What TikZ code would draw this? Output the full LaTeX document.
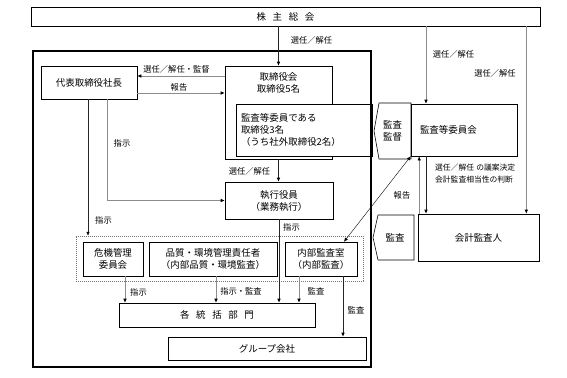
\documentclass[tikz,border=0pt]{standalone}
\usepackage{fontspec}
\setmainfont{Noto Sans CJK JP}
\usetikzlibrary{arrows.meta}
\newcommand{\jgap}{\hspace{0.7em}}

\begin{document}
\begin{tikzpicture}[x=1bp,y=-1bp,
  box/.style={draw,fill=white,line width=0.6pt,inner sep=0pt,align=center,
    font=\fontsize{9.5}{12}\selectfont},
  lbl/.style={inner sep=0pt,align=center,font=\fontsize{8.3}{11}\selectfont},
  link/.style={draw=black!45,line width=0.6pt,-{Latex[length=4bp,width=3.5bp,color=black]}},
  dlink/.style={link,draw=black!85}]
\useasboundingbox (0,0) rectangle (567,377);

\node[box,minimum width=509bp,minimum height=19bp] (sh) at (285.5,16.5) {株\jgap 主\jgap 総\jgap 会};

\node[box,minimum width=96bp,minimum height=33bp] (ceo) at (89,82.5) {代表取締役社長};
\node[box,minimum width=107bp,minimum height=93bp] (bod) at (278.5,112.5) {};
\node[box,draw=none,fill=none] (bodtxt) at (278.5,82.5) {取締役会\\取締役5名};
\node[box,minimum height=52bp,text width=126bp,inner xsep=5bp,align=left] (acm) at (304,130)
  {監査等委員である\\取締役3名\\（うち社外取締役2名）};

\draw[fill=white,line width=0.6pt] (411,103) -- (379,103) -- (374,131) -- (379,159) -- (411,159) -- cycle;
\node[box,draw=none,fill=none] (kk) at (392.5,131) {監査\\監督};
\node[box,minimum height=52bp,text width=88bp,inner xsep=9bp,align=left] (ac) at (464,130) {監査等委員会};

\draw[fill=white,line width=0.6pt] (414,215) -- (378,215) -- (373,237.5) -- (378,260) -- (414,260) -- cycle;
\node[box,draw=none,fill=none] (kk2) at (395,237.5) {監査};
\node[box,minimum width=121bp,minimum height=47bp] (aud) at (478.5,237.5) {会計監査人};

\node[box,minimum width=108bp,minimum height=37bp] (exe) at (279,200.5) {執行役員\\（業務執行）};

\node[draw=black!55,dash pattern=on 1pt off 1pt,minimum width=287bp,minimum height=45bp] (grp) at (219.5,258.5) {};
\node[box,minimum width=60bp,minimum height=34bp] (risk) at (113,259) {危機管理\\委員会};
\node[box,minimum width=128bp,minimum height=34bp] (qual) at (213,259) {品質・環境管理責任者\\（内部品質・環境監査）};
\node[box,minimum width=72bp,minimum height=34bp] (ia) at (321,259) {内部監査室\\（内部監査）};

\node[box,minimum width=196bp,minimum height=24bp] (div) at (217,315) {各\jgap 統\jgap 括\jgap 部\jgap 門};
\node[box,minimum width=198bp,minimum height=23bp] (gc) at (267,348.5) {グループ会社};

\draw[line width=1.4pt] (33,51) rectangle (371,367);

% connectors
\coordinate (selA) at ([yshift=6.5bp]ceo.east);
\coordinate (repA) at ([yshift=-10.5bp]ceo.east);
\coordinate (ceoout) at ([xshift=-1bp]ceo.south);
\coordinate (ceoexe) at ([xshift=18bp]ceo.south);
\coordinate (acin) at ([xshift=-38bp]ac.north);
\coordinate (audin) at ([xshift=-13bp]aud.north east);
\coordinate (repB) at ([xshift=1.5bp]aud.north west);
\coordinate (riskout) at ([xshift=12bp]risk.south);
\coordinate (qualout) at ([xshift=3bp]qual.south);
\coordinate (iaout) at ([xshift=-22bp]ia.south);
\coordinate (iagrp) at ([xshift=22bp]ia.south);
\coordinate (iaup) at ([xshift=23bp]ia.north);

\draw[dlink] (sh.south -| bod.north) -- (bod.north);
\draw[link] (selA -| bod.west) -- (selA);
\draw[link] (repA) -- (repA -| bod.west);
\draw[dlink] (ceoout) -- (ceoout |- grp.north);
\draw[link] (ceoexe) |- (exe.west);
\draw[dlink] (bod.south) -- (bod.south |- exe.north);
\draw[dlink] (exe.south) -- (exe.south |- div.north);
\draw[link] (sh.south -| acin) -- (acin);
\draw[link] (sh.south -| audin) -- (audin);
\draw[link] (repB) -- (repB |- ac.south);
\draw[dlink] (acin |- ac.south) -- (acin |- aud.north);
\draw[black,line width=0.4pt,{Latex[length=4bp,width=3.5bp]}-{Latex[length=4bp,width=3.5bp]}] (iaup) -- (ac.south west);
\draw[link] (riskout) -- (riskout |- div.north);
\draw[link] (qualout) -- (qualout |- div.north);
\draw[link] (iaout) -- (iaout |- div.north);
\draw[dlink] (iagrp) -- (iagrp |- gc.north);

\node[lbl] (l1) at (311.5,40) {選任／解任};
\node[lbl] (l2) at (176.5,69.5) {選任／解任・監督};
\node[lbl] (l3) at (179,87) {報告};
\node[lbl] (l4) at (103.5,220) {指示};
\node[lbl] (l5) at (122,143) {指示};
\node[lbl] (l6) at (249.5,171) {選任／解任};
\node[lbl] (l7) at (291.5,227.5) {指示};
\node[lbl] (l8) at (453.5,54) {選任／解任};
\node[lbl] (l9) at (495,73) {選任／解任};
\node[lbl] (l10) at (402,195) {報告};
\node[lbl,align=left,anchor=west,font=\fontsize{7.8}{12}\selectfont] (l11) at (435,174)
  {選任／解任\hspace{0.3em}の議案決定\\会計監査相当性の判断};
\node[lbl] (l12) at (138.5,292) {指示};
\node[lbl] (l13) at (241,291) {指示・監査};
\node[lbl] (l14) at (316,291) {監査};
\node[lbl] (l15) at (356,310) {監査};
\end{tikzpicture}
\end{document}
